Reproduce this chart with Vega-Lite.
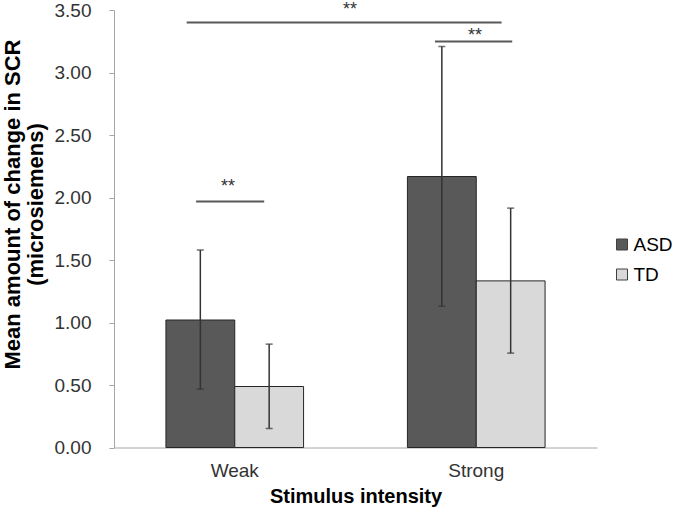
{
  "$schema": "https://vega.github.io/schema/vega-lite/v6.json",
  "width": 483,
  "height": 437.5,
  "autosize": {"type": "none"},
  "padding": {"left": 114, "top": 10, "right": 78, "bottom": 71},
  "config": {
    "font": "Liberation Sans",
    "view": {"stroke": null},
    "axis": {
      "domainColor": "#a6a6a6",
      "tickColor": "#a6a6a6",
      "labelFontSize": 19,
      "labelColor": "#333333",
      "titleFontSize": 19,
      "titleFontWeight": "bold",
      "titleColor": "#000000",
      "grid": false
    }
  },
  "datasets": {
    "bars": [
      {"intensity": "Weak", "group": "ASD", "mean": 1.02, "lo": 0.467, "hi": 1.58},
      {"intensity": "Weak", "group": "TD", "mean": 0.488, "lo": 0.152, "hi": 0.827},
      {"intensity": "Strong", "group": "ASD", "mean": 2.168, "lo": 1.13, "hi": 3.208},
      {"intensity": "Strong", "group": "TD", "mean": 1.333, "lo": 0.755, "hi": 1.915}
    ],
    "sig": [
      {"x1": 0.301, "x2": 1.605, "y": 3.40, "sx": 0.977, "sy": 3.50, "label": "**"},
      {"x1": 1.329, "x2": 1.649, "y": 3.248, "sx": 1.495, "sy": 3.29, "label": "**"},
      {"x1": 0.340, "x2": 0.622, "y": 1.968, "sx": 0.472, "sy": 2.085, "label": "**"}
    ]
  },
  "layer": [
    {
      "data": {"name": "bars"},
      "encoding": {
        "x": {
          "field": "intensity",
          "type": "nominal",
          "sort": ["Weak", "Strong"],
          "scale": {"paddingInner": 0.43, "paddingOuter": 0.215},
          "axis": {"title": "Stimulus intensity", "titleFontSize": 20, "labelAngle": 0, "ticks": false, "labelPadding": 14, "titlePadding": 6}
        },
        "xOffset": {
          "field": "group",
          "type": "nominal",
          "sort": ["ASD", "TD"],
          "scale": {"paddingInner": 0, "paddingOuter": 0}
        }
      },
      "layer": [
        {
          "mark": {"type": "bar", "stroke": "#262626", "strokeWidth": 1},
          "encoding": {
            "y": {
              "field": "mean",
              "type": "quantitative",
              "scale": {"domain": [0, 3.5], "nice": false},
              "axis": {
                "values": [0, 0.5, 1, 1.5, 2, 2.5, 3, 3.5],
                "format": ".2f",
                "tickSize": 5,
                "labelPadding": 18,
                "title": ["Mean amount of change in SCR", "(microsiemens)"],
                "titleFontSize": 22,
                "titlePadding": 7,
                "titleLineHeight": 23,
                "titleY": 194
              }
            },
            "color": {
              "field": "group",
              "type": "nominal",
              "sort": ["ASD", "TD"],
              "scale": {"domain": ["ASD", "TD"], "range": ["#595959", "#d9d9d9"]},
              "legend": {
                "title": null,
                "orient": "none",
                "legendX": 498.5,
                "legendY": 225,
                "symbolType": "square",
                "symbolSize": 121,
                "symbolStrokeColor": "#404040",
                "symbolStrokeWidth": 1,
                "symbolOpacity": 1,
                "labelFontSize": 19,
                "labelColor": "#000000",
                "labelOffset": 2,
                "rowPadding": 10
              }
            }
          }
        },
        {
          "mark": {"type": "rule", "color": "#333333", "strokeWidth": 1.5},
          "encoding": {
            "y": {"field": "lo", "type": "quantitative"},
            "y2": {"field": "hi"}
          }
        },
        {
          "mark": {"type": "tick", "color": "#333333", "thickness": 1.5, "size": 7},
          "encoding": {"y": {"field": "lo", "type": "quantitative"}}
        },
        {
          "mark": {"type": "tick", "color": "#333333", "thickness": 1.5, "size": 7},
          "encoding": {"y": {"field": "hi", "type": "quantitative"}}
        }
      ]
    },
    {
      "data": {"name": "sig"},
      "mark": {"type": "rule", "color": "#595959", "strokeWidth": 2},
      "encoding": {
        "x": {"field": "x1", "type": "quantitative", "scale": {"domain": [0, 2], "nice": false}, "axis": null},
        "x2": {"field": "x2"},
        "y": {"field": "y", "type": "quantitative"}
      }
    },
    {
      "data": {"name": "sig"},
      "mark": {"type": "text", "fontSize": 18, "color": "#333333", "baseline": "middle"},
      "encoding": {
        "x": {"field": "sx", "type": "quantitative", "scale": {"domain": [0, 2], "nice": false}, "axis": null},
        "y": {"field": "sy", "type": "quantitative"},
        "text": {"field": "label"}
      }
    }
  ],
  "resolve": {"scale": {"x": "independent"}}
}
